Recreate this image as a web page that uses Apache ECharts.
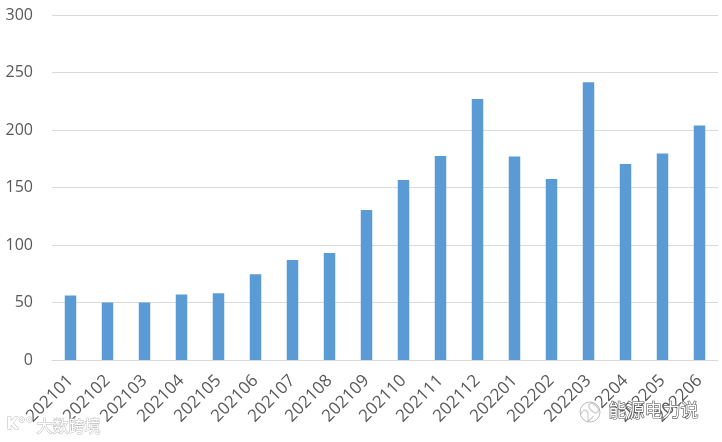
<!DOCTYPE html>
<html><head><meta charset="utf-8">
<script src="https://cdn.jsdelivr.net/npm/echarts@6/dist/echarts.min.js"></script>
<style>html,body{margin:0;padding:0;background:#fff}#c{width:722px;height:442px}</style>
</head><body><div id="c"></div>
<script>
const categories = ['202101','202102','202103','202104','202105','202106','202107','202108','202109','202110','202111','202112','202201','202202','202203','202204','202205','202206'];
const values = [56, 50, 50, 57, 58, 74.5, 87, 93, 130.5, 156.5, 177.5, 227, 177, 157.5, 241.5, 170.5, 179.5, 204];
const yTicks = [0, 50, 100, 150, 200, 250, 300];

const chart = echarts.init(document.getElementById('c'));
chart.setOption({
  animation: false,
  grid: {left: 52, right: 4, top: 15, bottom: 82},
  xAxis: {
    type: 'category', data: categories,
    axisLine: {show: true, lineStyle: {color: '#d9d9d9', width: 1}},
    axisTick: {show: false},
    axisLabel: {rotate: 45, interval: 0, color: '#595959', fontSize: 17, fontFamily: 'Open Sans', margin: 18}
  },
  yAxis: {
    type: 'value', min: yTicks[0], max: yTicks[yTicks.length - 1], interval: 50,
    axisLine: {show: false}, axisTick: {show: false},
    splitLine: {lineStyle: {color: '#d9d9d9', width: 1}},
    axisLabel: {color: '#595959', fontSize: 16, fontFamily: 'Open Sans', margin: 19}
  },
  series: [{
    type: 'bar', data: values, barWidth: '31%',
    itemStyle: {color: '#5b9bd5'}
  }],
  graphic: [
    {type: 'text', left: 608, top: 401, z: 100, style: {text: '能源电力说', font: '18px "Noto Sans CJK SC"', fill: '#fff', stroke: '#555', lineWidth: 1.2}},
    {type: 'circle', shape: {cx: 590, cy: 412, r: 10}, z: 100, style: {fill: 'rgba(255,255,255,0.7)', stroke: '#bbb', lineWidth: 1}},
    {type: 'text', left: 36, top: 417, z: 100, style: {text: '大数跨境', font: '16px "Noto Sans CJK SC"', fill: '#fff', stroke: '#bbb', lineWidth: 1}},
    {type: 'text', left: 6, top: 417, z: 100, style: {text: 'K°°', font: 'bold 15px "DejaVu Sans"', fill: '#fff', stroke: '#bbb', lineWidth: 1}}
  ]
});
</script></body></html>
